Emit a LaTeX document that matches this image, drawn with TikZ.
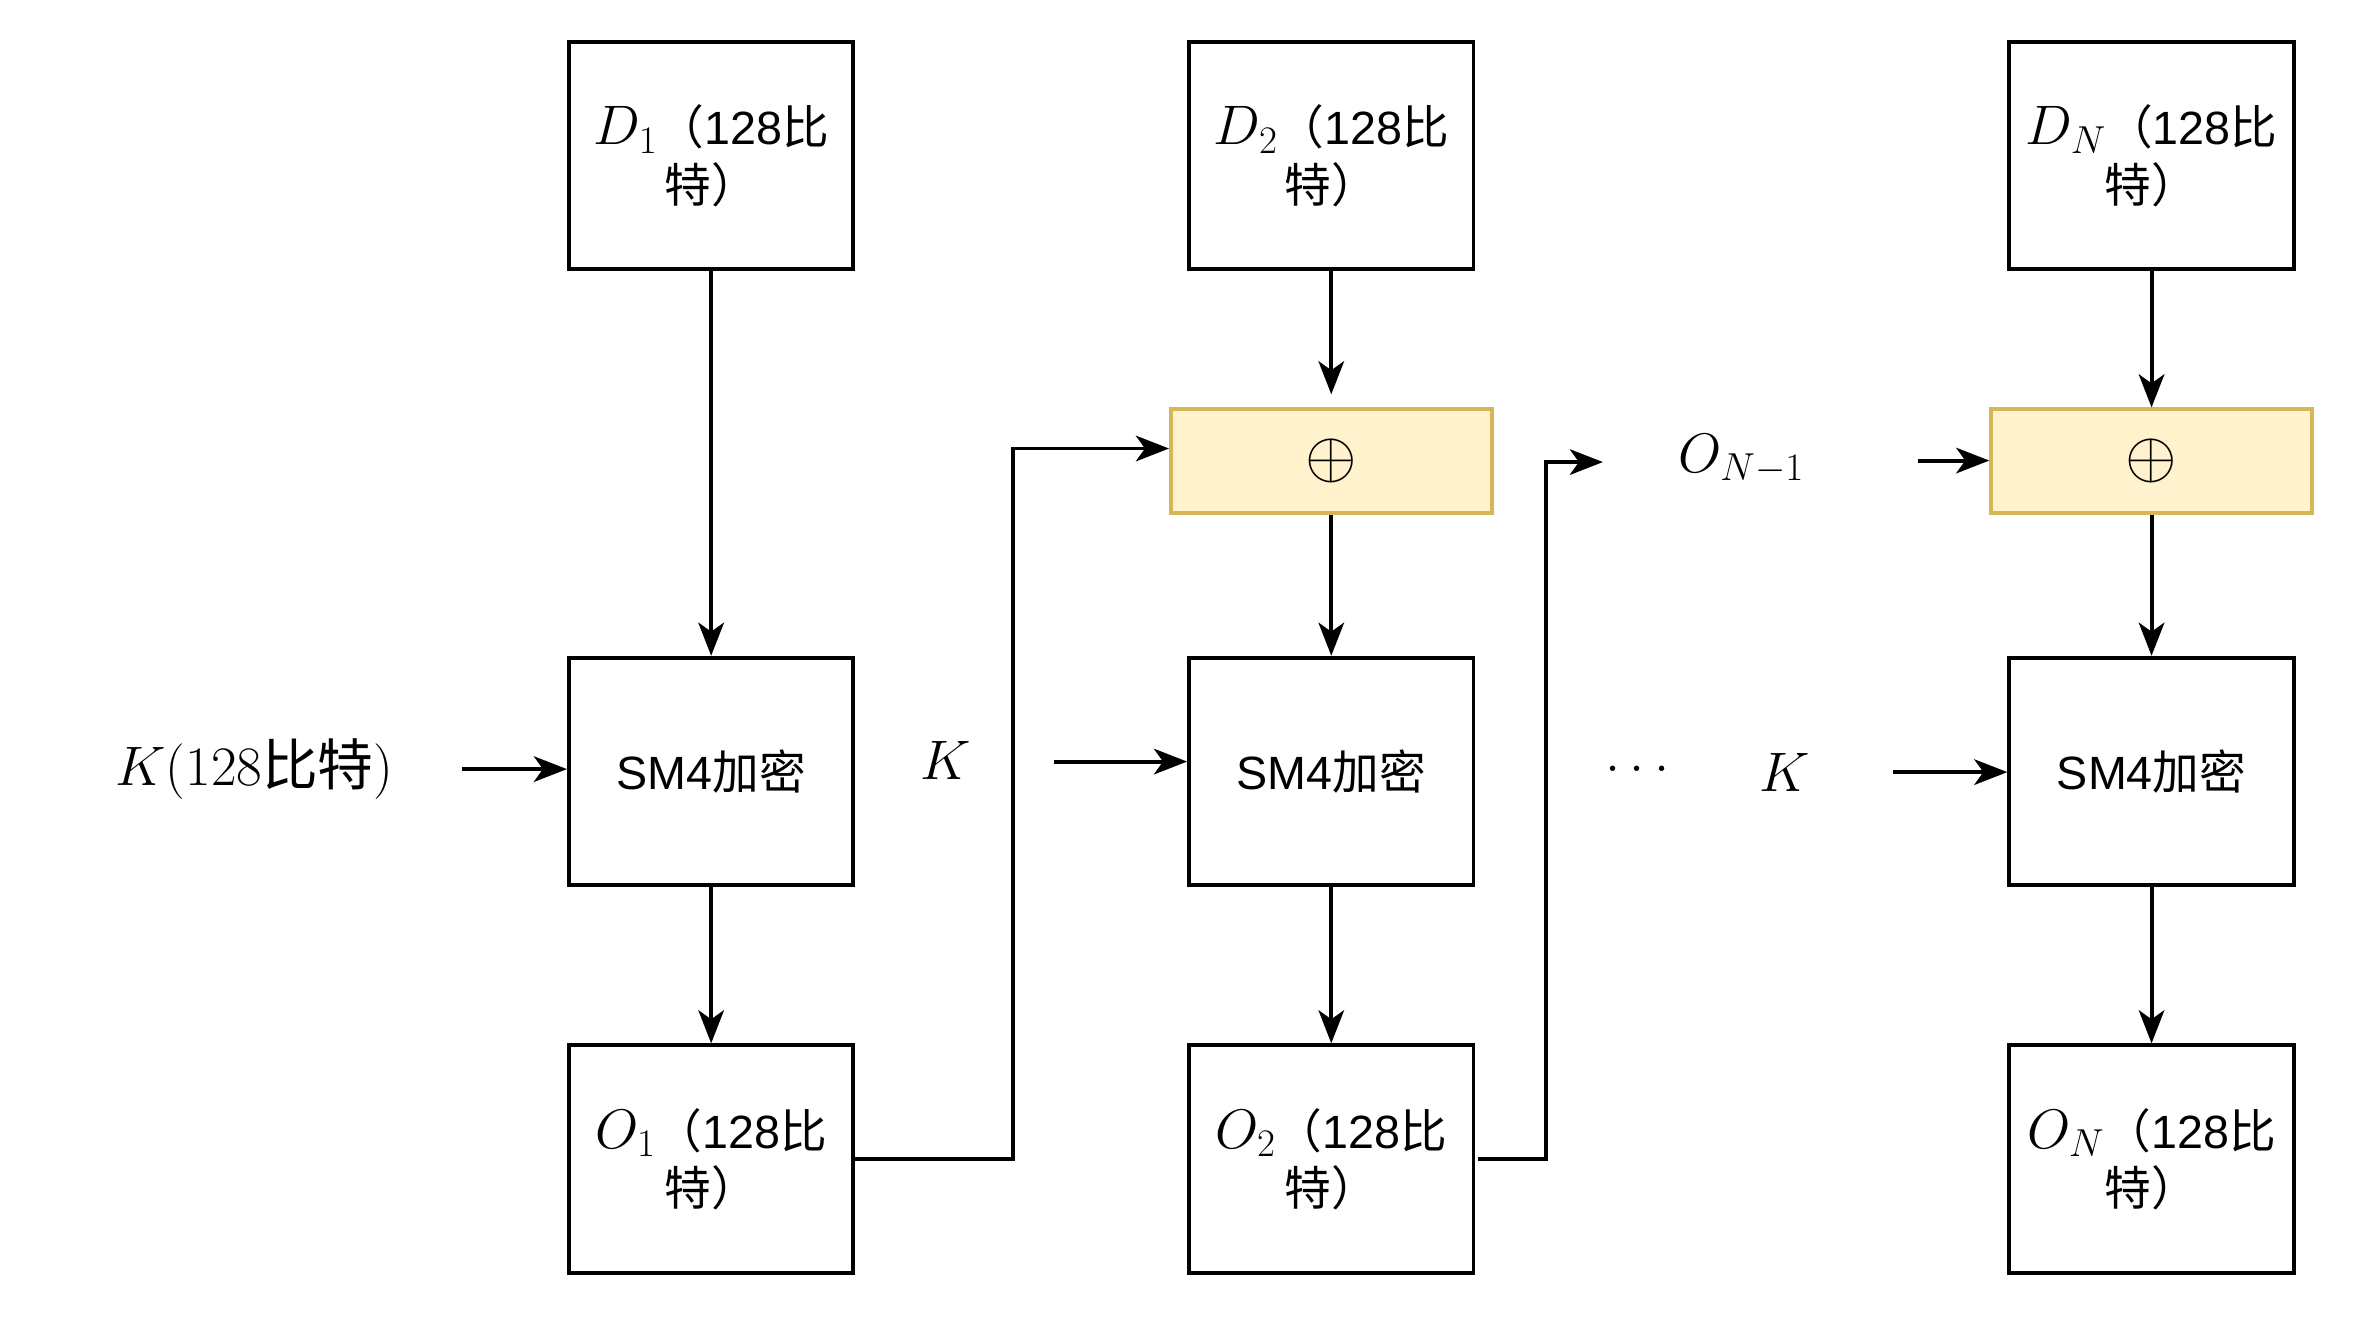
\documentclass[tikz,border=0pt]{standalone}
\usepackage{fix-cm}
\usepackage[no-math]{fontspec}
\setmainfont{Liberation Sans}
\newfontfamily\cjk{Noto Sans CJK SC}
\usetikzlibrary{arrows.meta}
\definecolor{xorfill}{HTML}{FFF2CC}
\definecolor{xorline}{HTML}{D6B656}
\newcommand\cj[1]{{\cjk #1}}
\newcommand\mth[1]{{\fontsize{37}{38}\selectfont$#1$}}
\newcommand\lbl[1]{\mth{#1}\cj{（}128\cj{比}\\\cj{特）}}
\tikzset{
  box/.style={draw, line width=2.6pt, minimum width=189pt, minimum height=151pt,
    inner sep=0pt, align=center, font=\fontsize{31}{38}\selectfont},
  xorbox/.style={draw=xorline, fill=xorfill, line width=2.6pt, minimum width=213pt,
    minimum height=69pt, inner sep=0pt, font=\fontsize{44}{44}\selectfont},
  txt/.style={inner sep=0pt, font=\fontsize{37}{38}\selectfont},
  arr/.style={-{Stealth[length=22pt,width=17pt,inset=6pt]}, line width=2.6pt}
}
\begin{document}
\begin{tikzpicture}[x=1pt,y=-1pt]
\useasboundingbox (0,0) rectangle (1568,877);
% column 1
\node[box] (d1) at (472.5,103.5) {\lbl{D_1}};
\node[box] (e1) at (472.5,512.5) {SM4\cj{加密}};
\node[box] (o1) at (472.5,770) {\lbl{O_1}};
% column 2
\node[box] (d2) at (884.5,103.5) {\lbl{D_2}};
\node[xorbox] (x2) at (884.5,306.5) {$\oplus$};
\node[box] (e2) at (884.5,512.5) {SM4\cj{加密}};
\node[box] (o2) at (884.5,770) {\lbl{O_2}};
% column 3
\node[box] (d3) at (1429.5,103.5) {\lbl{D_N}};
\node[xorbox] (x3) at (1429.5,306.5) {$\oplus$};
\node[box] (e3) at (1429.5,512.5) {SM4\cj{加密}};
\node[box] (o3) at (1429.5,770) {\lbl{O_N}};
% free texts
\node[txt] (kin) at (169,511) {$K(128\mbox{\cjk 比特})$};
\node[txt] (k2) at (628,505) {$K$};
\node[txt] (dots) at (1088,511) {$\ldots$};
\node[txt] (k3) at (1186,513) {$K$};
\node[txt] (on1) at (1157,305) {$O_{N-1}$};
% free ends
\coordinate (k1s) at (307,511);
\coordinate (k2s) at (700,506);
\coordinate (k3s) at (1258,513);
\coordinate (x2in) at (884.5,262);
\coordinate (j1) at (673,298);
\coordinate (j2) at (1027,307);
\coordinate (on1in) at (1065,307);
\coordinate (on1out) at (1274,306);
% connectors
\draw[arr] (d1) -- (e1);
\draw[arr] (e1) -- (o1);
\draw[arr] (d2) -- (x2in);
\draw[arr] (x2) -- (e2);
\draw[arr] (e2) -- (o2);
\draw[arr] (d3) -- (x3);
\draw[arr] (x3) -- (e3);
\draw[arr] (e3) -- (o3);
\draw[arr] (k1s) -- (k1s -| e1.west);
\draw[arr] (k2s) -- (k2s -| e2.west);
\draw[arr] (k3s) -- (k3s -| e3.west);
\draw[arr] (o1.east) -| (j1) -- (j1 -| x2.west);
\draw[arr] ([xshift=2pt]o2.east) -| (j2) -- (on1in);
\draw[arr] (on1out) -- (on1out -| x3.west);
\end{tikzpicture}
\end{document}
